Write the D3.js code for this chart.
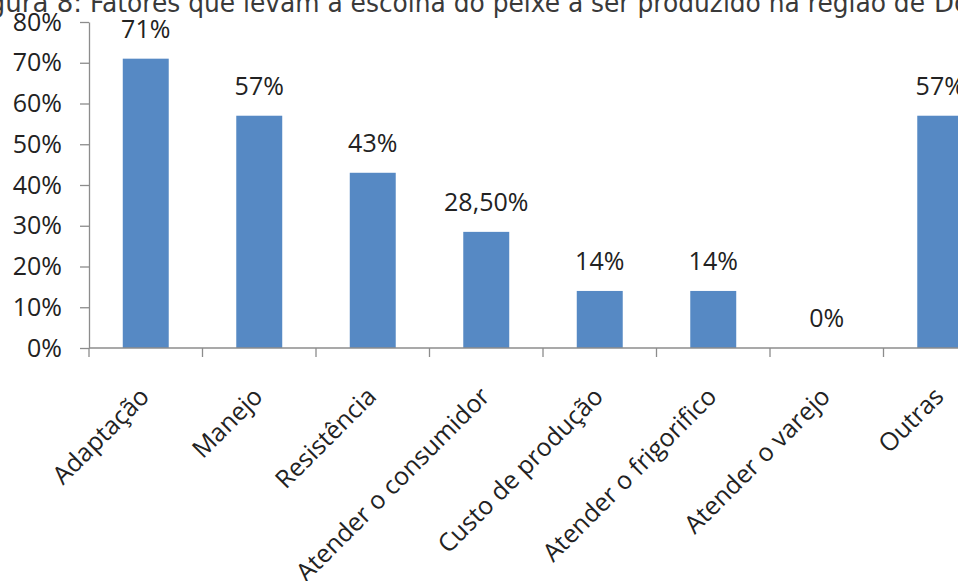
<!DOCTYPE html>
<html>
<head>
<meta charset="utf-8">
<script src="https://cdn.jsdelivr.net/npm/d3@7"></script>
<style>
  html, body { margin: 0; padding: 0; background: #fff; }
  svg { display: block; }
</style>
</head>
<body>
<script>
// Fatores que levam à escolha do peixe
const categories = ["Adaptação", "Manejo", "Resistência", "Atender o consumidor",
  "Custo de produção", "Atender o frigorifico", "Atender o varejo", "Outras"];
const values = [71, 57, 43, 28.5, 14, 14, 0, 57];
const valueLabels = ["71%", "57%", "43%", "28,50%", "14%", "14%", "0%", "57%"];
const yTicks = [0, 10, 20, 30, 40, 50, 60, 70, 80];
const titleLead = "Figura 8:";
const titleBody = "Fatores que levam à escolha do peixe a ser produzido na região de";
const titleTail = "Dourados";

const W = 958, H = 581;
const plot = { left: 89, top: 22, bottom: 348, step: 113.5 };
const font = "'Open Sans', 'Liberation Sans', sans-serif";
const textColor = "#222222";
const axisColor = "#8c8c8c";
const barColor = "#5689c4";

const svg = d3.select("body").append("svg")
  .attr("width", W).attr("height", H)
  .attr("viewBox", `0 0 ${W} ${H}`);

// category slots run past the right edge of the page
const slots = d3.scaleBand()
  .domain(categories)
  .range([plot.left, plot.left + plot.step * categories.length])
  .padding(0);

const x = d3.scaleBand()
  .domain(categories)
  .range(slots.range())
  .paddingInner(0.595)
  .paddingOuter(0.2975);

const y = d3.scaleLinear().domain([0, 80]).range([plot.bottom, plot.top]);

// title line
const tTitle = svg.append("g")
  .attr("font-family", "'DejaVu Sans', sans-serif")
  .attr("font-size", 26)
  .attr("fill", "#3a3a3a");
tTitle.append("text").attr("x", 82).attr("y", 12)
  .attr("text-anchor", "end").text(titleLead);
tTitle.append("text").attr("x", 90).attr("y", 12)
  .attr("textLength", 835).attr("lengthAdjust", "spacingAndGlyphs")
  .text(titleBody);
tTitle.append("text").attr("x", 934).attr("y", 12).text(titleTail);

// y axis
const yAxis = svg.append("g")
  .attr("transform", `translate(${plot.left},0)`)
  .call(d3.axisLeft(y).tickValues(yTicks).tickSize(9).tickSizeOuter(0).tickPadding(18)
    .tickFormat(d => d + "%"));
yAxis.select(".domain").attr("stroke", axisColor).attr("stroke-width", 1.3);
yAxis.selectAll(".tick line").attr("stroke", axisColor).attr("stroke-width", 1.3);
yAxis.selectAll(".tick text")
  .attr("font-family", font).attr("font-size", 25).attr("fill", textColor);

// bars
svg.append("g").selectAll("rect")
  .data(values)
  .join("rect")
  .attr("x", (d, i) => x(categories[i]))
  .attr("width", x.bandwidth())
  .attr("y", d => y(d))
  .attr("height", d => y(0) - y(d))
  .attr("fill", barColor);

// x axis line and slot boundary ticks
const xAxis = svg.append("g");
xAxis.append("line")
  .attr("x1", slots.range()[0]).attr("x2", slots.range()[1])
  .attr("y1", y(0)).attr("y2", y(0))
  .attr("stroke", axisColor).attr("stroke-width", 1.3);
xAxis.selectAll("line.tick")
  .data(categories)
  .join("line")
  .attr("class", "tick")
  .attr("x1", d => slots(d)).attr("x2", d => slots(d))
  .attr("y1", y(0)).attr("y2", y(0) + 9)
  .attr("stroke", axisColor).attr("stroke-width", 1.3);

// rotated category labels
xAxis.selectAll("text")
  .data(categories)
  .join("text")
  .attr("transform", d => `translate(${slots(d) + slots.bandwidth() / 2 + 5},${y(0) + 50}) rotate(-45)`)
  .attr("text-anchor", "end")
  .attr("font-family", font).attr("font-size", 25).attr("fill", textColor)
  .text(d => d);

// value labels
svg.append("g").selectAll("text")
  .data(values)
  .join("text")
  .attr("x", (d, i) => x(categories[i]) + x.bandwidth() / 2)
  .attr("y", d => y(d) - 21)
  .attr("text-anchor", "middle")
  .attr("font-family", font).attr("font-size", 25).attr("fill", textColor)
  .text((d, i) => valueLabels[i]);
</script>
</body>
</html>
